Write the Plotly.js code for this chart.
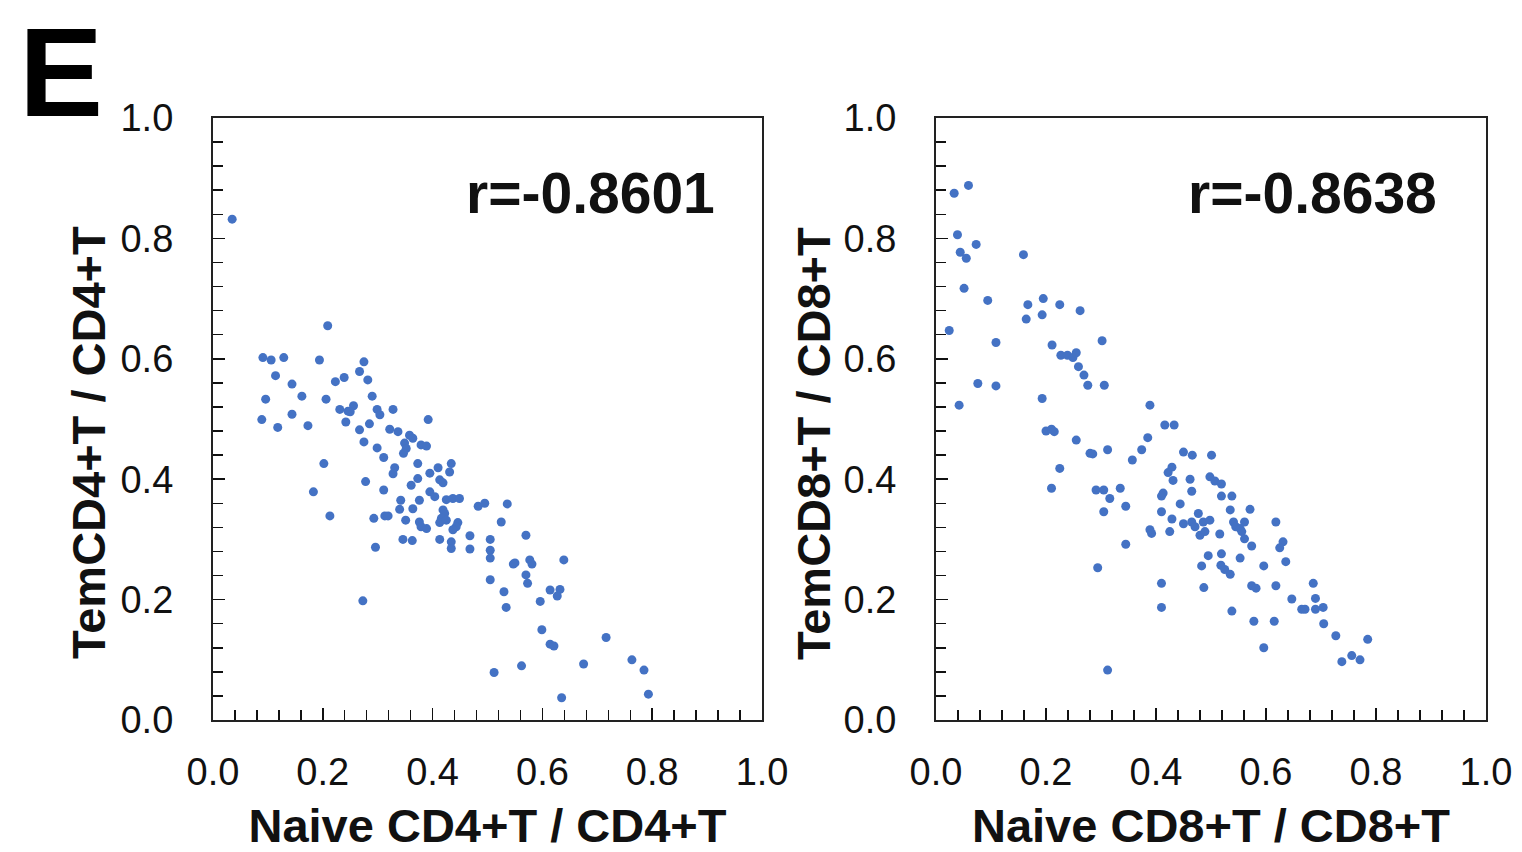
<!DOCTYPE html>
<html>
<head>
<meta charset="utf-8">
<script src="https://cdn.plot.ly/plotly-3.0.1.min.js"></script>
<style>
html,body{margin:0;padding:0;background:#fff;}
#chart{width:1522px;height:852px;}
</style>
</head>
<body>
<div id="chart"></div>
<script>
// Panel 1: Naive CD4+T / CD4+T vs TemCD4+T / CD4+T
const cd4Naive = [0.035,0.209,0.091,0.106,0.129,0.194,0.275,0.114,0.144,0.267,0.282,0.223,0.239,0.162,0.096,0.206,0.290,0.231,0.246,0.256,0.250,0.299,0.304,0.328,0.144,0.089,0.118,0.173,0.242,0.392,0.267,0.285,0.322,0.337,0.275,0.299,0.358,0.364,0.349,0.352,0.347,0.379,0.389,0.311,0.202,0.373,0.331,0.328,0.410,0.395,0.434,0.431,0.278,0.373,0.361,0.413,0.419,0.183,0.311,0.395,0.404,0.342,0.376,0.425,0.437,0.449,0.483,0.495,0.536,0.340,0.364,0.419,0.422,0.416,0.213,0.293,0.313,0.319,0.351,0.376,0.379,0.389,0.413,0.425,0.446,0.443,0.437,0.525,0.468,0.570,0.505,0.346,0.363,0.413,0.434,0.434,0.468,0.296,0.505,0.505,0.550,0.547,0.577,0.581,0.639,0.505,0.570,0.573,0.530,0.614,0.632,0.627,0.596,0.534,0.273,0.599,0.614,0.621,0.716,0.512,0.562,0.675,0.763,0.785,0.793,0.635];
const cd4Tem = [0.832,0.655,0.602,0.598,0.602,0.598,0.595,0.572,0.558,0.579,0.565,0.562,0.569,0.538,0.533,0.533,0.538,0.516,0.513,0.522,0.512,0.516,0.507,0.516,0.508,0.499,0.486,0.489,0.495,0.499,0.482,0.492,0.483,0.479,0.462,0.452,0.473,0.468,0.460,0.451,0.443,0.457,0.455,0.436,0.426,0.426,0.419,0.409,0.419,0.410,0.426,0.412,0.396,0.401,0.390,0.399,0.394,0.379,0.382,0.379,0.371,0.365,0.365,0.366,0.368,0.368,0.355,0.360,0.359,0.350,0.351,0.349,0.343,0.335,0.339,0.335,0.339,0.339,0.332,0.329,0.321,0.318,0.328,0.332,0.328,0.321,0.316,0.329,0.306,0.307,0.300,0.300,0.298,0.300,0.296,0.285,0.284,0.287,0.282,0.269,0.261,0.259,0.266,0.259,0.266,0.233,0.241,0.227,0.213,0.216,0.217,0.206,0.197,0.187,0.198,0.150,0.126,0.123,0.137,0.079,0.090,0.093,0.100,0.083,0.043,0.037];

// Panel 2: Naive CD8+T / CD8+T vs TemCD8+T / CD8+T
const cd8Naive = [0.033,0.059,0.039,0.073,0.044,0.055,0.159,0.051,0.094,0.167,0.195,0.225,0.164,0.193,0.262,0.024,0.109,0.211,0.302,0.227,0.239,0.249,0.255,0.259,0.269,0.276,0.306,0.076,0.109,0.042,0.193,0.389,0.416,0.433,0.385,0.450,0.466,0.501,0.429,0.422,0.431,0.462,0.498,0.507,0.519,0.413,0.410,0.465,0.519,0.538,0.444,0.410,0.535,0.571,0.429,0.450,0.465,0.477,0.471,0.480,0.489,0.486,0.498,0.516,0.392,0.389,0.425,0.541,0.545,0.553,0.561,0.556,0.618,0.561,0.574,0.631,0.625,0.495,0.483,0.519,0.518,0.525,0.535,0.553,0.596,0.636,0.410,0.487,0.574,0.582,0.618,0.686,0.647,0.690,0.665,0.671,0.690,0.704,0.410,0.538,0.578,0.615,0.705,0.727,0.785,0.596,0.738,0.756,0.771,0.200,0.210,0.215,0.255,0.280,0.285,0.312,0.374,0.357,0.225,0.210,0.291,0.305,0.316,0.335,0.305,0.345,0.345,0.294,0.312];
const cd8Tem = [0.875,0.888,0.806,0.790,0.777,0.767,0.773,0.717,0.697,0.690,0.700,0.690,0.666,0.673,0.680,0.647,0.627,0.623,0.630,0.606,0.606,0.602,0.610,0.587,0.573,0.556,0.556,0.559,0.555,0.523,0.534,0.523,0.490,0.490,0.469,0.445,0.440,0.440,0.420,0.411,0.398,0.400,0.404,0.397,0.392,0.377,0.372,0.380,0.372,0.372,0.359,0.346,0.349,0.350,0.334,0.326,0.329,0.343,0.321,0.307,0.313,0.329,0.332,0.309,0.310,0.316,0.313,0.329,0.321,0.318,0.329,0.313,0.329,0.301,0.289,0.296,0.286,0.273,0.256,0.276,0.257,0.250,0.242,0.269,0.256,0.263,0.227,0.220,0.223,0.219,0.223,0.227,0.201,0.202,0.184,0.184,0.184,0.187,0.187,0.181,0.164,0.164,0.160,0.140,0.134,0.120,0.097,0.107,0.100,0.480,0.483,0.479,0.465,0.443,0.442,0.449,0.449,0.432,0.418,0.385,0.382,0.382,0.368,0.385,0.346,0.355,0.292,0.253,0.083];

const xTitles = ["Naive CD4+T / CD4+T", "Naive CD8+T / CD8+T"];
const yTitles = ["TemCD4+T / CD4+T", "TemCD8+T / CD8+T"];
const rLabels = ["r=-0.8601", "r=-0.8638"];
const panelLetter = "E";

const FONT = "Liberation Sans, Arial, sans-serif";
const markerStyle = {color: "#4472c4", size: 9};

const traces = [
  {x: cd4Naive, y: cd4Tem, type: "scatter", mode: "markers", marker: markerStyle, xaxis: "x", yaxis: "y", hoverinfo: "x+y"},
  {x: cd8Naive, y: cd8Tem, type: "scatter", mode: "markers", marker: markerStyle, xaxis: "x2", yaxis: "y2", hoverinfo: "x+y"}
];

function axis(domain, title, isX) {
  const a = {
    domain: domain,
    range: [0, 1],
    tick0: 0, dtick: 0.2, tickformat: ".1f",
    ticks: "inside", ticklen: 12, tickwidth: 1.5, tickcolor: "#111",
    minor: {tick0: 0, dtick: 0.04, ticks: "inside", ticklen: 10, tickwidth: 1.5, tickcolor: "#111", showgrid: false},
    showline: true, linewidth: 2, linecolor: "#222", mirror: true,
    showgrid: false, zeroline: false, fixedrange: true,
    tickfont: {family: FONT, size: 38, color: "#111"},
    ticklabelstandoff: isX ? 17 : 30,
    automargin: false
  };
  if (title) a.title = {text: title, font: {family: FONT, size: 47, color: "#111", weight: "bold"}, standoff: 26};
  return a;
}

const yDom = [0.1549, 0.8615];
const titleFont = {family: FONT, size: 47, color: "#111", weight: "bold"};
const layout = {
  width: 1522, height: 852,
  margin: {l: 0, r: 0, t: 0, b: 0},
  paper_bgcolor: "#fff", plot_bgcolor: "#fff",
  showlegend: false,
  xaxis: Object.assign(axis([0.1399, 0.5007], xTitles[0], true), {anchor: "y"}),
  yaxis: Object.assign(axis(yDom, null, false), {anchor: "x"}),
  xaxis2: Object.assign(axis([0.615, 0.9763], xTitles[1], true), {anchor: "y2"}),
  yaxis2: Object.assign(axis(yDom, null, false), {anchor: "x2"}),
  annotations: [
    {text: yTitles[0], xref: "paper", yref: "paper", x: 88 / 1522, y: (852 - 443) / 852, textangle: -90, xanchor: "center", yanchor: "middle", showarrow: false, font: titleFont},
    {text: yTitles[1], xref: "paper", yref: "paper", x: 813 / 1522, y: (852 - 443) / 852, textangle: -90, xanchor: "center", yanchor: "middle", showarrow: false, font: titleFont},
    {text: rLabels[0], xref: "x domain", yref: "y domain", x: 0.918, y: 0.875, xanchor: "right", yanchor: "middle", showarrow: false, font: {family: FONT, size: 57, color: "#111", weight: "bold"}},
    {text: rLabels[1], xref: "x2 domain", yref: "y2 domain", x: 0.915, y: 0.875, xanchor: "right", yanchor: "middle", showarrow: false, font: {family: FONT, size: 57, color: "#111", weight: "bold"}},
    {text: panelLetter, xref: "paper", yref: "paper", x: 0.011, y: 1.0, xanchor: "left", yanchor: "top", showarrow: false, font: {family: FONT, size: 126, color: "#000", weight: "bold"}}
  ]
};

Plotly.newPlot("chart", traces, layout, {displayModeBar: false, staticPlot: true});
</script>
</body>
</html>
